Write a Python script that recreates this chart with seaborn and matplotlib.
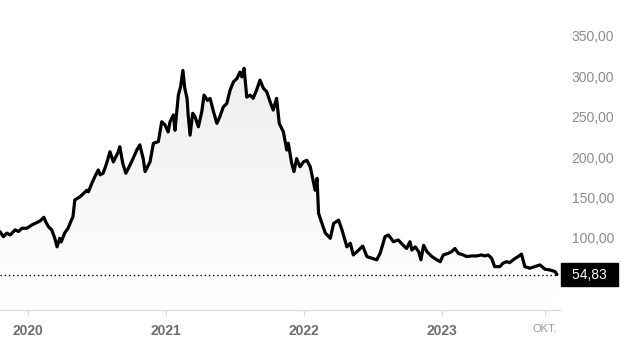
import numpy as np
import pandas as pd
import matplotlib
matplotlib.use("Agg")
import matplotlib.pyplot as plt
import matplotlib.dates as mdates
from matplotlib.colors import LinearSegmentedColormap
import seaborn as sns

# ---- data ----
dates = [
    "2019-10-20", "2019-10-29", "2019-11-07", "2019-11-16", "2019-11-29", "2019-12-08",
    "2019-12-17", "2019-12-30", "2020-01-12", "2020-01-25", "2020-02-03", "2020-02-13",
    "2020-02-18", "2020-02-25", "2020-03-05", "2020-03-13", "2020-03-19", "2020-03-26",
    "2020-03-30", "2020-04-08", "2020-04-17", "2020-04-26", "2020-04-30", "2020-05-05",
    "2020-05-19", "2020-05-28", "2020-06-06", "2020-06-10", "2020-06-19", "2020-06-27",
    "2020-07-06", "2020-07-11", "2020-07-19", "2020-07-28", "2020-08-06", "2020-08-15",
    "2020-08-28", "2020-09-01", "2020-09-09", "2020-09-17", "2020-09-28", "2020-10-07",
    "2020-10-16", "2020-10-24", "2020-11-02", "2020-11-07", "2020-11-20", "2020-11-29",
    "2020-12-12", "2020-12-21", "2020-12-30", "2021-01-07", "2021-01-12", "2021-01-21",
    "2021-01-25", "2021-02-03", "2021-02-09", "2021-02-15", "2021-02-20", "2021-02-26",
    "2021-03-01", "2021-03-06", "2021-03-13", "2021-03-19", "2021-03-28", "2021-04-06",
    "2021-04-12", "2021-04-21", "2021-04-28", "2021-05-07", "2021-05-16", "2021-05-24",
    "2021-06-02", "2021-06-11", "2021-06-20", "2021-06-29", "2021-07-08", "2021-07-16",
    "2021-07-21", "2021-07-27", "2021-08-03", "2021-08-12", "2021-08-20", "2021-08-29",
    "2021-09-07", "2021-09-16", "2021-09-25", "2021-10-04", "2021-10-12", "2021-10-21",
    "2021-10-28", "2021-11-08", "2021-11-17", "2021-11-21", "2021-11-30", "2021-12-06",
    "2021-12-13", "2021-12-22", "2021-12-31", "2022-01-09", "2022-01-18", "2022-01-27",
    "2022-01-31", "2022-02-05", "2022-02-09", "2022-02-18", "2022-02-27", "2022-03-12",
    "2022-03-21", "2022-04-03", "2022-04-12", "2022-04-25", "2022-05-04", "2022-05-12",
    "2022-05-26", "2022-06-06", "2022-06-17", "2022-06-30", "2022-07-13", "2022-07-22",
    "2022-08-04", "2022-08-13", "2022-08-26", "2022-09-08", "2022-09-21", "2022-09-30",
    "2022-10-09", "2022-10-14", "2022-10-23", "2022-11-01", "2022-11-07", "2022-11-14",
    "2022-11-23", "2022-12-06", "2022-12-19", "2022-12-28", "2023-01-05", "2023-01-18",
    "2023-01-27", "2023-02-05", "2023-02-14", "2023-02-27", "2023-03-08", "2023-03-21",
    "2023-04-03", "2023-04-16", "2023-04-25", "2023-05-04", "2023-05-13", "2023-05-21",
    "2023-06-04", "2023-06-12", "2023-06-21", "2023-06-30", "2023-07-09", "2023-07-22",
    "2023-07-31", "2023-08-09", "2023-08-22", "2023-09-04", "2023-09-18", "2023-10-01",
    "2023-10-14", "2023-10-28", "2023-11-02",
]
values = [
    107.8, 101.6, 106.0, 103.7, 110.0, 108.0,
    112.0, 112.0, 116.0, 119.0, 121.0, 125.5,
    120.0, 114.0, 110.0, 99.6, 89.0, 99.6,
    95.0, 106.0, 112.0, 122.0, 126.0, 147.0,
    151.0, 155.0, 159.0, 157.0, 167.5, 175.7,
    184.0, 178.0, 180.0, 192.0, 206.5, 194.0,
    206.5, 212.7, 192.0, 180.0, 190.0, 199.0,
    208.6, 215.0, 198.0, 182.0, 194.0, 217.0,
    219.0, 243.6, 239.5, 231.0, 243.6, 252.0,
    233.0, 276.5, 287.0, 307.0, 285.0, 272.5,
    252.0, 227.0, 254.0, 250.0, 237.4, 256.0,
    276.5, 270.0, 272.5, 256.0, 241.6, 250.0,
    262.0, 266.0, 282.7, 293.0, 297.0, 305.0,
    299.0, 309.5, 274.0, 276.5, 272.5, 282.7,
    295.0, 285.0, 280.6, 268.0, 258.0, 272.5,
    241.6, 231.0, 208.6, 217.0, 192.0, 182.0,
    198.0, 188.0, 194.0, 196.0, 188.0, 167.5,
    159.0, 173.7, 130.5, 118.0, 106.0, 99.6,
    118.0, 122.0, 110.0, 89.0, 93.5, 79.0,
    85.0, 90.0, 77.0, 75.0, 73.0, 81.0,
    101.6, 103.7, 95.4, 97.5, 91.0, 87.0,
    95.4, 85.0, 89.0, 83.0, 73.0, 91.0,
    83.0, 77.0, 73.0, 70.7, 79.0, 81.0,
    83.0, 87.0, 81.0, 79.0, 77.0, 77.8,
    77.8, 79.0, 77.8, 79.0, 75.0, 64.6,
    64.6, 68.8, 70.7, 69.5, 73.0, 77.0,
    80.0, 64.6, 62.6, 64.6, 66.7, 61.4,
    60.5, 58.4, 54.83,
]
last_label = "54,83"
yticks = [100, 150, 200, 250, 300, 350]
ytick_labels = ["100,00", "150,00", "200,00", "250,00", "300,00", "350,00"]
xtick_dates = ["2020-01-01", "2021-01-01", "2022-01-01", "2023-01-01", "2023-10-01"]
xtick_labels = ["2020", "2021", "2022", "2023", "OKT."]

# ---- styling ----
sns.set_theme(style="white")
plt.rcParams["font.family"] = ["Liberation Sans", "DejaVu Sans"]

df = pd.DataFrame({"date": pd.to_datetime(dates), "value": values})

fig = plt.figure(figsize=(6.35, 3.62), dpi=100)
ax = fig.add_axes([0, 52 / 362, 560 / 635, 310 / 362])

ymin, ymax = 11, 394
xmin, xmax = pd.Timestamp("2019-10-20"), pd.Timestamp("2023-11-10")

sns.lineplot(data=df, x="date", y="value", ax=ax, color="black", lw=2.3, zorder=3)

# gradient fill under the curve
xnum = mdates.date2num(df["date"])
poly = ax.fill_between(xnum, df["value"], ymin, facecolor="none", edgecolor="none")
path = poly.get_paths()[0]
cmap = LinearSegmentedColormap.from_list("g", ["#ffffff", "#e9e9e9"])
grad = np.linspace(0, 1, 256).reshape(-1, 1)
im = ax.imshow(grad, extent=[mdates.date2num(xmin), mdates.date2num(xmax), ymin, ymax],
               origin="lower", aspect="auto", cmap=cmap, zorder=1)
im.set_clip_path(path, transform=ax.transData)

# dotted last-value line
ax.plot([df["date"].iloc[0], df["date"].iloc[-1]], [values[-1]] * 2,
        ls=(0, (1, 2)), color="black", lw=1, zorder=2)

ax.set_xlim(xmin, xmax)
ax.set_ylim(ymin, ymax)
ax.set_xlabel("")
ax.set_ylabel("")

for s in ["top", "left", "right"]:
    ax.spines[s].set_visible(False)
ax.spines["bottom"].set_color("#dcdcdc")
ax.spines["bottom"].set_linewidth(1)

# x ticks
ax.set_xticks(pd.to_datetime(xtick_dates))
ax.set_xticklabels(xtick_labels)
ax.tick_params(axis="x", length=4, width=1, color="#dcdcdc", pad=6,
               labelsize=10, labelcolor="#6e6e6e", bottom=True)
xl = ax.get_xticklabels()
for t in xl[:-1]:
    t.set_fontweight("bold")
xl[-1].set_fontsize(8)
xl[-1].set_color("#999999")

# y ticks on the right
ax.yaxis.tick_right()
ax.set_yticks(yticks)
ax.set_yticklabels(ytick_labels)
ax.tick_params(axis="y", length=0, pad=39, labelsize=10, labelcolor="#8c8c8c")
for t in ax.get_yticklabels():
    t.set_ha("right")

# last value box
ax.annotate("\u2002" + last_label + "\u2002", xy=(1.0, values[-1]),
            xycoords=("axes fraction", "data"),
            xytext=(21.2, 0), textcoords="offset points",
            ha="center", va="center", color="white", fontsize=10,
            bbox=dict(boxstyle="square,pad=0.3", fc="black", ec="black"),
            annotation_clip=False)

fig.savefig("out.png", dpi=100)
